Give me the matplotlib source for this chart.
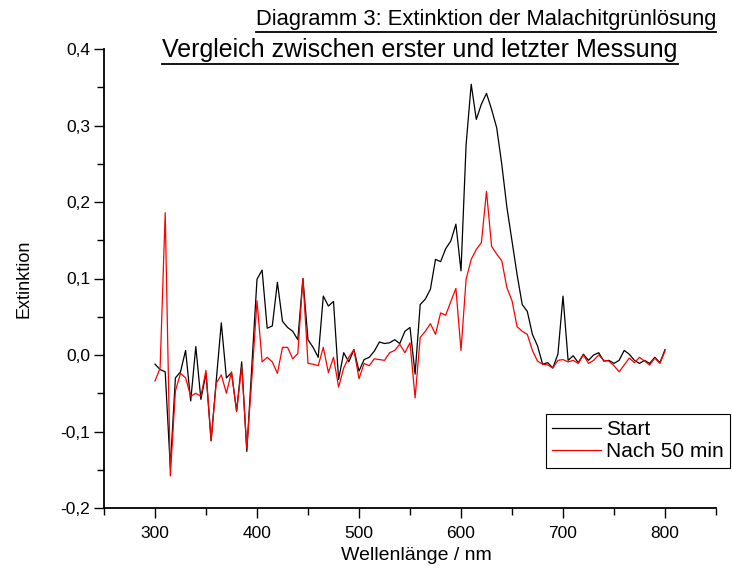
import numpy as np
import matplotlib
matplotlib.use("Agg")
import matplotlib.pyplot as plt
from matplotlib.ticker import MultipleLocator, FuncFormatter
from matplotlib.lines import Line2D

plt.rcParams['font.family'] = ['Liberation Sans', 'DejaVu Sans']

# Daten: Wellenlaenge 300 - 800 nm in 5 nm Schritten
wellenlaenge = np.arange(300, 801, 5)

start = [-0.012, -0.019, -0.022, -0.147, -0.030, -0.022, 0.006, -0.060, 0.011, -0.058,
         -0.024, -0.112, -0.034, 0.042, -0.030, -0.023, -0.073, -0.009, -0.126, -0.013,
         0.099, 0.111, 0.035, 0.038, 0.095, 0.044, 0.036, 0.031, 0.020, 0.100,
         0.020, 0.010, -0.003, 0.077, 0.064, 0.070, -0.032, 0.003, -0.009, 0.007,
         -0.021, -0.006, -0.003, 0.005, 0.017, 0.015, 0.016, 0.020, 0.015, 0.031,
         0.036, -0.025, 0.066, 0.073, 0.086, 0.125, 0.122, 0.139, 0.149, 0.171,
         0.110, 0.275, 0.354, 0.308, 0.328, 0.342, 0.321, 0.297, 0.249, 0.193,
         0.149, 0.105, 0.066, 0.057, 0.027, 0.012, -0.012, -0.010, -0.017, 0.001,
         0.077, -0.007, -0.001, -0.010, 0.001, -0.007, 0.000, 0.003, -0.008, -0.007,
         -0.011, -0.007, 0.006, 0.001, -0.007, -0.011, -0.007, -0.011, -0.003, -0.010,
         0.007]

nach_50 = [-0.034, -0.017, 0.186, -0.158, -0.047, -0.024, -0.030, -0.054, -0.050, -0.054,
           -0.020, -0.112, -0.037, -0.026, -0.050, -0.022, -0.074, -0.015, -0.122, -0.030,
           0.071, -0.009, -0.003, -0.009, -0.024, 0.010, 0.010, -0.005, 0.002, 0.100,
           -0.011, -0.012, -0.014, 0.010, -0.023, -0.003, -0.042, -0.017, -0.003, 0.007,
           -0.031, -0.011, -0.014, -0.005, -0.006, -0.007, 0.003, 0.006, 0.014, 0.003,
           0.016, -0.056, 0.023, 0.031, 0.041, 0.027, 0.055, 0.052, 0.070, 0.087,
           0.006, 0.099, 0.125, 0.138, 0.147, 0.214, 0.142, 0.132, 0.123, 0.088,
           0.071, 0.037, 0.031, 0.027, 0.006, -0.008, -0.012, -0.013, -0.017, -0.007,
           -0.006, -0.009, -0.007, -0.011, 0.000, -0.011, -0.007, 0.000, -0.007, -0.008,
           -0.014, -0.022, -0.013, -0.004, -0.010, -0.003, -0.008, -0.013, -0.004, -0.011,
           0.005]

titel1 = "Diagramm 3: Extinktion der Malachitgrünlösung"
titel2 = "Vergleich zwischen erster und letzter Messung"

# Plot
fig = plt.figure(figsize=(7.32, 5.77), dpi=100)
ax = fig.add_axes([104/732, 1-508/577, 612/732, 459/577])

ax.plot(wellenlaenge, start, color='black', lw=0.9, label='Start')
ax.plot(wellenlaenge, nach_50, color='red', lw=0.9, label='Nach 50 min')

ax.set_xlim(250, 850)
ax.set_ylim(-0.2, 0.4)
ax.xaxis.set_major_locator(MultipleLocator(100))
ax.xaxis.set_minor_locator(MultipleLocator(50))
ax.yaxis.set_major_locator(MultipleLocator(0.1))
ax.yaxis.set_minor_locator(MultipleLocator(0.05))
ax.yaxis.set_major_formatter(FuncFormatter(lambda v, p: ('%.1f' % v).replace('.', ',')))

# Beschriftung der x-Achse nur 300 - 800
ax.xaxis.set_major_formatter(FuncFormatter(lambda v, p: '%d' % v if 300 <= v <= 800 else ''))

for s in ['top', 'right']:
    ax.spines[s].set_visible(False)
for s in ['left', 'bottom']:
    ax.spines[s].set_linewidth(1.3)

ax.tick_params(which='major', direction='out', length=7, width=1.0, labelsize=12.5, pad=3)
ax.tick_params(axis='x', which='major', pad=6)
ax.tick_params(which='minor', direction='out', length=5, width=1.0)

ax.set_xlabel('Wellenlänge / nm', fontsize=14)
ax.xaxis.set_label_coords(0.51, -0.085)
ax.set_ylabel('Extinktion', fontsize=13, labelpad=20)

leg = ax.legend(loc='upper left', bbox_to_anchor=(546/732, 1-414/577), bbox_transform=fig.transFigure,
                fontsize=15, frameon=True, fancybox=False, edgecolor='black', framealpha=1,
                borderaxespad=0, borderpad=0.3, handlelength=2.35, handletextpad=0.25, labelspacing=0.15)
leg.get_frame().set_linewidth(0.8)

# Titel mit Unterstreichung
t1 = fig.text(486/732, 1-20/577, titel1, ha='center', va='center', fontsize=15.8)
t2 = fig.text(420/732, 1-50/577, titel2, ha='center', va='center', fontsize=18)
fig.canvas.draw()
for t in [t1, t2]:
    bb = t.get_window_extent().transformed(fig.transFigure.inverted())
    fig.add_artist(Line2D([bb.x0, bb.x1], [bb.y0 - 0.003, bb.y0 - 0.003], color='black', lw=1.3,
                          transform=fig.transFigure))

fig.savefig('out.png', dpi=100)
